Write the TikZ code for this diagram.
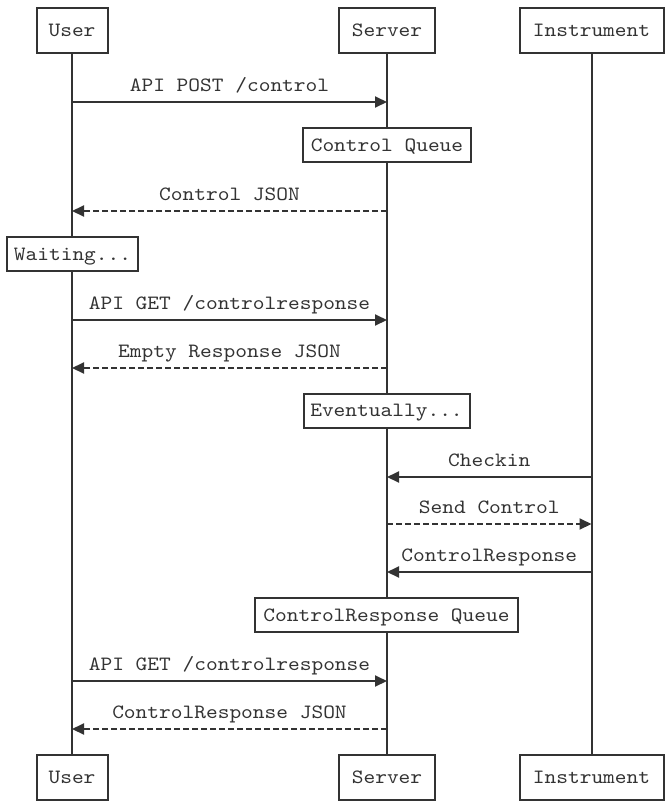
\documentclass[tikz,border=0pt]{standalone}
\usepackage{fontspec}
\newfontfamily\seqfont{lmmono10-regular.otf}[FakeStretch=1.1]
\usetikzlibrary{arrows.meta}
\definecolor{ink}{HTML}{333333}
\begin{document}
\begin{tikzpicture}[x=1pt,y=-1pt,
  font=\seqfont\fontsize{20.3}{24}\selectfont,
  every node/.style={text=ink},
  actor/.style={draw=ink,line width=2pt,fill=white,inner sep=0pt,minimum height=45pt,text height=12.2pt,text depth=0pt},
  notebox/.style={draw=ink,line width=2pt,fill=white,inner sep=0pt,minimum height=34pt,text height=12.2pt,text depth=0pt},
  life/.style={draw=ink,line width=2pt},
  msgline/.style={draw=ink,line width=2pt,-{Triangle[length=12pt,width=11pt]}},
  reply/.style={msgline,dash pattern=on 6pt off 3pt},
  msgtext/.style={anchor=base,inner sep=0pt,yshift=10.5pt}]
\useasboundingbox (0,0) rectangle (671,809);
% actors (top)
\node[actor,minimum width=71pt] (ut) at (72,30.5) {User};
\node[actor,minimum width=96pt] (st) at (387,30.5) {Server};
\node[actor,minimum width=144pt] (it) at (591.5,30.5) {Instrument};
% actors (bottom)
\node[actor,minimum width=71pt] (ub) at (72,777.5) {User};
\node[actor,minimum width=96pt] (sb) at (387,777.5) {Server};
\node[actor,minimum width=144pt] (ib) at (591.5,777.5) {Instrument};
% lifelines
\draw[life] (ut.south) -- (ub.north);
\draw[life] (st.south) -- (sb.north);
\draw[life] (it.south) -- (ib.north);
% message endpoints
\foreach \n/\y in {1/102,2/211,3/320,4/368,5/477,6/524,7/572,8/681,9/729}{
  \coordinate (u\n) at (72,\y);
  \coordinate (s\n) at (387,\y);
  \coordinate (i\n) at (591.5,\y);
}
% messages
\draw[msgline] (u1) -- (s1) node[midway,msgtext] {API POST /control};
\draw[reply] (s2) -- (u2) node[midway,msgtext] {Control JSON};
\draw[msgline] (u3) -- (s3) node[midway,msgtext] {API GET /controlresponse};
\draw[reply] (s4) -- (u4) node[midway,msgtext] {Empty Response JSON};
\draw[msgline] (i5) -- (s5) node[midway,msgtext] {Checkin};
\draw[reply] (s6) -- (i6) node[midway,msgtext] {Send Control};
\draw[msgline] (i7) -- (s7) node[midway,msgtext] {ControlResponse};
\draw[msgline] (u8) -- (s8) node[midway,msgtext] {API GET /controlresponse};
\draw[reply] (s9) -- (u9) node[midway,msgtext] {ControlResponse JSON};
% notes (over lifelines)
\node[notebox,minimum width=168pt] (cq) at (387,145) {Control Queue};
\node[notebox,minimum width=131pt] (wt) at (72.5,254) {Waiting...};
\node[notebox,minimum width=166pt] (ev) at (386.5,410.5) {Eventually...};
\node[notebox,minimum width=263pt] (crq) at (386.5,615) {ControlResponse Queue};
\end{tikzpicture}
\end{document}
